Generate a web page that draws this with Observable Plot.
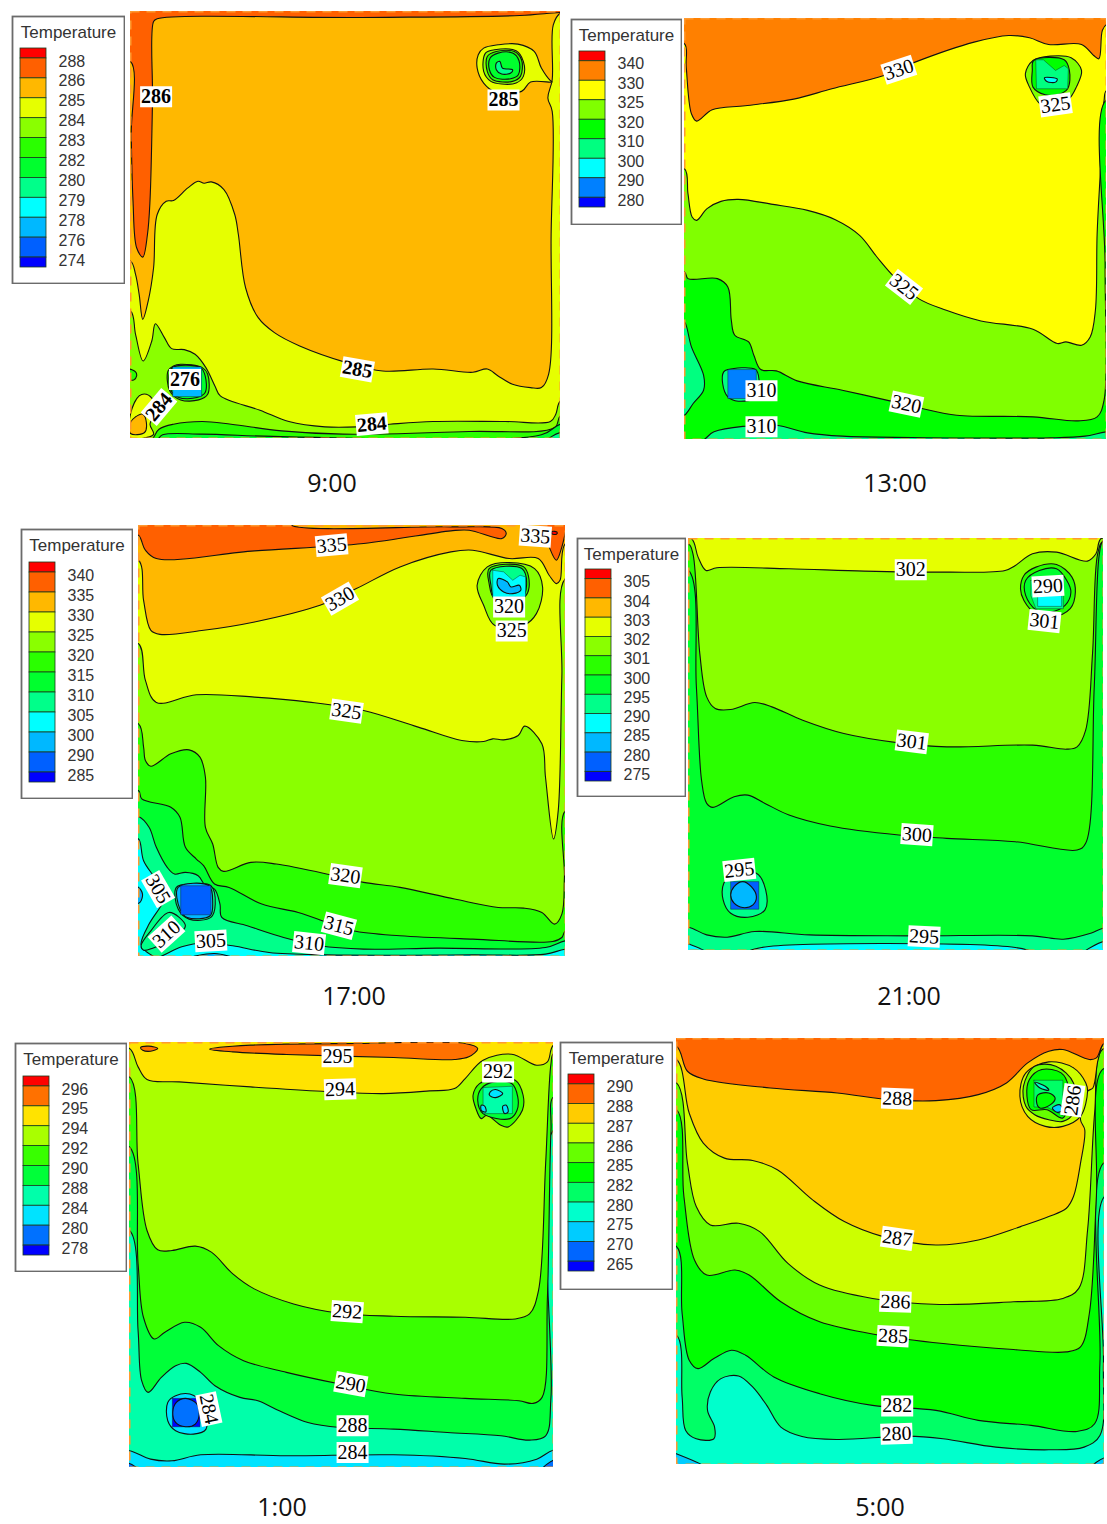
<!DOCTYPE html>
<html><head><meta charset="utf-8">
<script src="https://cdn.jsdelivr.net/npm/d3@7"></script>
<script src="https://cdn.jsdelivr.net/npm/@observablehq/plot@0.6"></script>
<style>
html,body{margin:0;padding:0;background:#fff}
#page{position:relative;width:1107px;height:1524px;overflow:hidden}
#page svg{position:absolute;background:transparent;overflow:hidden}
.cap{position:absolute;font:25px "Open Sans",sans-serif;color:#111;transform:translateX(-50%);white-space:nowrap;line-height:26px}
</style></head><body><div id="page"></div>
<script>
// ---------- legends ----------
const levels0900=[288,286,285,284,283,282,280,279,278,276,274];
const levels1300=[340,330,325,320,310,300,290,280];
const levels1700=[340,335,330,325,320,315,310,305,300,290,285];
const levels2100=[305,304,303,302,301,300,295,290,285,280,275];
const levels0100=[296,295,294,292,290,288,284,280,278];
const levels0500=[290,288,287,286,285,282,280,275,270,265];
const colors12=["#ff0000","#ff6000","#ffb800","#e6ff00","#8aff00","#2aff00","#00ff2e","#00ff8a","#00ffff","#00b8ff","#0060ff","#0000ff"];
const colors0900=colors12, colors1700=colors12, colors2100=colors12;
const colors1300=["#ff0000","#ff8000","#ffff00","#80ff00","#00ff00","#00ff80","#00ffff","#0080ff","#0000ff"];
const colors0100=["#ff0000","#ff7100","#ffe300","#a9ff00","#38ff00","#00ff39","#00ffaa","#00e3ff","#0071ff","#0000ff"];
const colors0500=["#ff0000","#ff6600","#ffcc00","#ccff00","#66ff00","#00ff00","#00ff66","#00ffcc","#00ccff","#0066ff","#0000ff"];

// ---------- contour regions (b = legend band) ----------
const regions0900=[
 {b:2,c:"bottom",p:[[361,30],[1553,30]]},
 {b:1,c:"top",p:[[361,180],[363,400],[368,600],[378,740],[395,768],[408,700],[415,600],[422,300],[425,60],[435,52],[1000,48],[1440,42],[1553,33]]},
 {b:3,c:"bottom",p:[[361,780],[375,820],[385,880],[395,955],[410,900],[425,800],[435,640],[460,600],[480,598],[520,560],[548,540],[565,546],[585,542],[620,565],[650,640],[660,700],[680,860],[715,950],[760,995],[830,1035],[960,1085],[1060,1110],[1200,1104],[1310,1114],[1350,1104],[1380,1125],[1420,1150],[1470,1160],[1500,1160],[1520,1120],[1527,700],[1530,330],[1518,290],[1530,235],[1533,70],[1553,35]]},
 {b:4,c:"bottom",p:[[361,930],[375,1000],[396,1080],[420,1020],[430,968],[455,1010],[475,1043],[510,1046],[540,1060],[570,1100],[595,1155],[610,1185],[720,1228],[800,1262],[900,1278],[990,1278],[1080,1270],[1200,1262],[1400,1262],[1525,1262],[1540,1240],[1553,1200]]},
 {b:3,k:"closed",p:[[361,1240],[385,1185],[405,1180],[425,1200],[430,1235],[415,1270],[425,1300],[405,1310],[361,1312]]},
 {b:2,k:"closed",p:[[361,1265],[375,1248],[395,1240],[405,1265],[400,1295],[361,1298]]},
 {b:5,k:"closed",p:[[355,1105],[375,1113],[378,1125],[370,1137],[355,1135]]},
 {b:5,c:"bottom",p:[[415,1320],[440,1285],[480,1270],[560,1262],[640,1270],[780,1290],[950,1300],[1300,1292],[1537,1280],[1553,1245]]},
 {b:6,c:"bottom",p:[[430,1320],[450,1302],[560,1300],[800,1308],[1500,1302],[1553,1270]]},
 {b:7,c:"bottom",p:[[1515,1320],[1553,1295]]},
 {b:3,k:"closed",p:[[1340,140],[1380,130],[1435,128],[1480,150],[1500,200],[1525,238],[1530,242],[1470,242],[1445,270],[1370,270],[1340,245],[1322,200],[1325,160]]},
 {b:4,k:"closed",p:[[1345,155],[1370,145],[1430,148],[1450,180],[1450,225],[1430,245],[1390,248],[1360,240],[1340,210]]},
 {b:5,k:"closed",p:[[1350,165],[1375,150],[1425,150],[1445,175],[1442,225],[1420,240],[1365,235],[1350,210]]},
 {b:6,k:"closed",p:[[1358,170],[1380,155],[1420,155],[1438,178],[1436,220],[1415,232],[1370,228],[1356,205]]},
 {b:7,k:"closed",p:[[1375,185],[1385,180],[1392,200],[1420,205],[1415,215],[1390,218],[1375,205]]},
 {b:5,k:"closed",p:[[480,1095],[500,1090],[560,1100],[575,1120],[575,1180],[550,1197],[500,1197],[470,1170],[465,1110]]},
 {b:6,k:"closed",p:[[475,1102],[555,1100],[568,1125],[568,1175],[545,1190],[495,1190],[472,1165]]},
 {b:9,k:"sq",p:[[478,1098],[558,1098],[558,1187],[478,1187]]}
];
const regions1300=[
 {b:2,c:"bottom",p:[[345,54],[1562,54]]},
 {b:1,c:"top",p:[[345,130],[350,200],[365,340],[380,362],[425,328],[520,316],[660,296],[770,265],[920,225],[1010,185],[1180,125],[1280,105],[1340,112],[1395,132],[1490,132],[1525,165],[1540,175],[1550,90],[1562,72]]},
 {b:3,c:"bottom",p:[[345,505],[355,580],[367,650],[380,660],[410,625],[450,603],[500,597],[600,612],[700,630],[780,658],[850,705],[900,770],[950,830],[1020,895],[1100,930],[1200,962],[1350,987],[1420,1030],[1445,1025],[1490,1035],[1515,1010],[1530,930],[1535,700],[1545,500],[1555,300],[1562,270]]},
 {b:4,c:"bottom",p:[[345,815],[355,835],[440,835],[470,860],[480,960],[490,1005],[530,1025],[545,1065],[565,1108],[610,1112],[670,1142],[800,1170],[950,1205],[1030,1225],[1130,1245],[1350,1250],[1480,1262],[1535,1250],[1555,1200],[1558,800],[1560,300]]},
 {b:5,k:"closed",p:[[335,965],[345,965],[365,1040],[400,1125],[400,1170],[370,1210],[345,1245],[335,1245]]},
 {b:5,c:"bottom",p:[[390,1325],[430,1295],[520,1278],[610,1275],[700,1298],[800,1308],[1000,1312],[1400,1313],[1500,1308],[1562,1295]]},
 {b:5,k:"closed",p:[[470,1108],[550,1108],[560,1140],[555,1190],[500,1203],[470,1190],[455,1150],[458,1115]]},
 {b:7,k:"sq",p:[[470,1108],[552,1108],[552,1195],[470,1195]]},
 {b:3,k:"closed",p:[[1350,180],[1400,167],[1460,172],[1490,210],[1475,260],[1450,300],[1400,320],[1370,310],[1340,260],[1328,220]]},
 {b:4,k:"closed",p:[[1352,180],[1440,178],[1455,210],[1450,265],[1420,283],[1385,283],[1350,260],[1348,210]]},
 {b:5,k:"sq",p:[[1358,178],[1380,178],[1415,210],[1440,195],[1452,205],[1450,265],[1360,265]]},
 {b:6,k:"closed",p:[[1383,232],[1420,236],[1415,245],[1390,243]]}
];
const regions1700=[
 {b:3,c:"bottom",p:[[381,46],[1555,46]]},
 {b:2,c:"top",p:[[381,150],[395,270],[415,360],[440,372],[560,360],[700,335],[880,285],[980,235],[1100,170],[1240,125],[1300,120],[1400,145],[1480,145],[1510,195],[1530,220],[1540,210],[1555,100]]},
 {b:1,k:"closed",p:[[360,30],[360,75],[381,75],[400,120],[430,145],[700,122],[1000,100],[1240,62],[1290,60],[1380,85],[1392,70],[1380,55],[1240,50],[800,44],[800,30]]},
 {b:1,k:"closed",p:[[1490,40],[1510,110],[1530,150],[1545,110],[1555,65],[1560,40]]},
 {b:0,k:"closed",p:[[1518,64],[1532,66],[1530,72],[1518,71]]},
 {b:4,c:"bottom",p:[[381,400],[400,510],[430,576],[540,553],[700,560],[850,575],[1000,600],[1150,650],[1270,690],[1330,693],[1355,685],[1385,688],[1425,675],[1443,647],[1490,700],[1500,800],[1522,985],[1535,900],[1545,500],[1555,205]]},
 {b:5,c:"bottom",p:[[381,640],[395,710],[400,750],[415,767],[470,730],[520,718],[550,740],[565,800],[565,950],[585,1000],[600,1070],[615,1082],[690,1055],[760,1060],[920,1095],[1000,1115],[1100,1130],[1250,1165],[1370,1190],[1440,1192],[1490,1205],[1525,1240],[1545,1210],[1552,1100],[1555,900]]},
 {b:6,c:"bottom",p:[[381,840],[390,865],[470,890],[495,920],[510,1010],[540,1045],[560,1065],[590,1120],[630,1130],[720,1180],[820,1205],[900,1235],[970,1260],[1100,1275],[1300,1285],[1520,1292],[1545,1280],[1555,1260]]},
 {b:7,c:"bottom",p:[[381,918],[410,950],[430,1010],[460,1070],[480,1090],[510,1085],[545,1095],[565,1125],[590,1135],[605,1180],[610,1220],[680,1245],[780,1280],[880,1305],[1000,1315],[1200,1312],[1500,1310],[1555,1290]]},
 {b:8,k:"closed",p:[[360,985],[381,985],[395,1050],[430,1110],[450,1170],[440,1190],[410,1240],[388,1300],[400,1320],[430,1345],[360,1345]]},
 {b:8,c:"bottom",p:[[420,1345],[500,1308],[560,1296],[640,1305],[740,1325],[900,1332],[1300,1332],[1500,1330],[1555,1315]]},
 {b:9,k:"closed",p:[[372,1130],[381,1130],[392,1150],[385,1175],[372,1178]]},
 {b:9,k:"closed",p:[[510,1345],[590,1328],[650,1345]]},
 {b:7,k:"closed",p:[[388,1305],[415,1260],[465,1205],[510,1245],[480,1280],[420,1312],[395,1318]]},
 {b:7,k:"closed",p:[[485,1130],[530,1120],[580,1125],[592,1180],[580,1220],[520,1225],[490,1195]]},
 {b:9,k:"closed",p:[[490,1130],[575,1125],[585,1175],[578,1215],[515,1220],[495,1195]]},
 {b:10,k:"sq",p:[[497,1125],[580,1125],[580,1212],[497,1212]]},
 {b:4,k:"closed",p:[[1340,170],[1400,157],[1470,175],[1492,230],[1475,310],[1440,345],[1360,345],[1330,285],[1312,225]]},
 {b:5,k:"closed",p:[[1345,175],[1440,170],[1455,230],[1440,262],[1360,265],[1345,220]]},
 {b:7,k:"closed",p:[[1350,180],[1435,175],[1448,225],[1435,262],[1360,262],[1350,225]]},
 {b:8,k:"sq",p:[[1355,180],[1385,185],[1410,210],[1430,195],[1445,200],[1445,260],[1355,262]]},
 {b:9,k:"closed",p:[[1370,205],[1395,215],[1405,230],[1428,225],[1432,240],[1410,250],[1385,245],[1368,225]]}
];
const regions2100=[
 {b:6,c:"bottom",p:[[347,54],[1557,54]]},
 {b:5,c:"top",p:[[347,150],[370,500],[385,780],[400,850],[418,862],[480,830],[520,825],[570,850],[640,885],[760,918],[960,945],[1100,955],[1300,965],[1480,990],[1505,970],[1530,500],[1545,100],[1557,60]]},
 {b:4,c:"top",p:[[347,70],[360,100],[380,400],[400,530],[425,565],[470,568],[540,547],[590,560],[680,600],[800,640],[960,668],[1100,680],[1350,675],[1450,687],[1480,680],[1505,630],[1525,400],[1540,100],[1557,60]]},
 {b:3,c:"top",p:[[355,54],[375,110],[398,150],[430,142],[640,145],[860,152],[1100,155],[1270,150],[1300,135],[1350,100],[1420,95],[1510,122],[1535,100],[1550,54]]},
 {b:7,c:"bottom",p:[[347,1222],[400,1245],[460,1252],[540,1235],[700,1245],[1000,1248],[1350,1248],[1440,1258],[1520,1240],[1557,1225]]},
 {b:8,k:"closed",p:[[335,1268],[347,1272],[395,1295],[335,1300]]},
 {b:8,k:"closed",p:[[1500,1298],[1557,1265],[1570,1265],[1570,1298]]},
 {b:8,k:"closed",p:[[520,1298],[560,1283],[1300,1283],[1350,1298]]},
 {b:7,k:"closed",p:[[470,1070],[545,1060],[572,1110],[570,1170],[520,1192],[470,1180],[448,1140],[450,1090]]},
 {b:10,k:"sq",p:[[470,1085],[552,1085],[552,1168],[470,1168]]},
 {b:9,k:"closed",p:[[505,1085],[530,1100],[545,1130],[535,1155],[505,1163],[480,1150],[470,1125],[480,1100]]},
 {b:5,k:"closed",p:[[1360,140],[1420,132],[1465,170],[1475,215],[1460,265],[1410,290],[1360,280],[1325,240],[1315,205],[1325,165]]},
 {b:6,k:"closed",p:[[1370,150],[1420,145],[1450,180],[1462,215],[1445,255],[1400,275],[1360,268],[1330,225],[1330,180]]},
 {b:7,k:"sq",p:[[1345,180],[1440,175],[1440,265],[1360,265],[1345,225]]},
 {b:8,k:"sq",p:[[1365,218],[1435,218],[1435,258],[1365,258]]}
];
const regions0100=[
 {b:6,c:"bottom",p:[[361,37],[1547,37]]},
 {b:5,c:"top",p:[[361,600],[385,900],[395,1050],[413,1085],[450,1040],[490,1005],[520,998],[560,1025],[600,1065],[670,1100],[720,1110],[780,1140],[860,1175],[950,1190],[1100,1195],[1250,1205],[1400,1215],[1480,1228],[1525,1215],[1540,1100],[1547,300]]},
 {b:4,c:"top",p:[[361,350],[385,700],[400,860],[430,925],[460,905],[515,875],[560,890],[610,945],[680,990],[800,1025],[950,1060],[1100,1090],[1300,1103],[1450,1110],[1490,1118],[1515,1100],[1530,800],[1540,300],[1547,200]]},
 {b:3,c:"top",p:[[361,140],[385,400],[410,600],[440,658],[480,660],[545,647],[590,665],[650,730],[710,775],[820,820],[950,848],[1100,857],[1300,860],[1440,865],[1480,850],[1505,780],[1525,400],[1540,100],[1547,70]]},
 {b:2,c:"top",p:[[361,55],[385,110],[410,148],[500,155],[700,170],[900,183],[1070,190],[1200,182],[1270,175],[1300,145],[1350,90],[1430,72],[1500,105],[1530,95],[1547,45]]},
 {b:1,k:"closed",p:[[585,57],[700,45],[1000,40],[1300,40],[1335,55],[1310,80],[1270,88],[1100,82],[800,73],[650,65]]},
 {b:1,k:"closed",p:[[392,52],[415,48],[440,55],[420,63],[398,60]]},
 {b:7,c:"bottom",p:[[361,1260],[420,1285],[480,1290],[560,1272],[800,1275],[1100,1272],[1300,1283],[1410,1300],[1500,1285],[1547,1258]]},
 {b:8,k:"closed",p:[[350,1298],[361,1298],[385,1316],[350,1316]]},
 {b:8,k:"closed",p:[[1515,1316],[1547,1288],[1560,1288],[1560,1316]]},
 {b:7,k:"closed",p:[[490,1095],[530,1090],[565,1120],[575,1195],[540,1210],[490,1200],[468,1170],[468,1115]]},
 {b:9,k:"sq",p:[[481,1103],[558,1103],[558,1188],[481,1188]]},
 {b:8,k:"closed",p:[[518,1103],[548,1118],[556,1150],[545,1180],[518,1188],[490,1175],[482,1145],[492,1115]]},
 {b:4,k:"closed",p:[[1340,160],[1380,148],[1440,150],[1462,195],[1460,240],[1420,290],[1400,285],[1360,255],[1345,265],[1330,235],[1322,195]]},
 {b:5,k:"closed",p:[[1345,175],[1380,155],[1430,160],[1447,200],[1445,240],[1425,265],[1350,250],[1335,210]]},
 {b:6,k:"sq",p:[[1350,172],[1432,168],[1432,250],[1350,250]]},
 {b:7,k:"closed",p:[[1370,185],[1385,178],[1405,190],[1385,202],[1368,195]]},
 {b:7,k:"closed",p:[[1405,228],[1415,225],[1420,245],[1410,250]]},
 {b:7,k:"closed",p:[[1345,225],[1355,228],[1358,245],[1345,240]]}
];
const regions0500=[
 {b:7,c:"bottom",p:[[344,27],[1558,27]]},
 {b:6,c:"top",p:[[344,915],[360,1100],[370,1200],[400,1225],[450,1225],[452,1190],[432,1140],[440,1085],[470,1045],[520,1037],[560,1070],[600,1125],[640,1190],[700,1218],[800,1227],[1000,1217],[1100,1225],[1250,1250],[1400,1258],[1500,1250],[1545,1215],[1555,1000],[1558,500]]},
 {b:5,c:"top",p:[[344,650],[360,850],[380,990],[405,1015],[450,985],[500,960],[540,975],[620,1040],[750,1090],[900,1125],[1080,1140],[1200,1170],[1350,1185],[1480,1203],[1530,1180],[1545,1000],[1555,400]]},
 {b:4,c:"top",p:[[344,240],[365,500],[395,690],[430,735],[510,720],[550,735],[640,815],[750,875],[920,915],[1100,940],[1300,958],[1450,965],[1490,950],[1515,850],[1535,500],[1552,120]]},
 {b:3,c:"top",p:[[344,160],[375,400],[400,530],[440,585],[520,580],[580,605],[660,700],[750,765],[900,805],[1090,823],[1300,815],[1440,805],[1485,775],[1510,600],[1530,250],[1552,60]]},
 {b:2,c:"top",p:[[344,90],[380,250],[420,340],[480,385],[560,392],[630,420],[730,510],[820,575],[930,620],[1080,645],[1200,630],[1320,590],[1400,560],[1450,535],[1470,500],[1490,400],[1502,300],[1490,270],[1510,185],[1525,175],[1540,90],[1558,40]]},
 {b:1,c:"top",p:[[344,50],[375,125],[420,148],[610,175],[800,190],[950,210],[1080,213],[1200,195],[1280,160],[1340,100],[1400,65],[1440,60],[1515,90],[1535,85],[1558,40]]},
 {b:8,k:"closed",p:[[330,1265],[344,1270],[425,1310],[330,1310]]},
 {b:8,k:"closed",p:[[1520,1310],[1558,1282],[1570,1282],[1570,1310]]},
 {b:3,k:"closed",p:[[1400,97],[1470,115],[1505,160],[1510,185],[1490,260],[1440,290],[1390,290],[1340,260],[1318,200],[1335,130]]},
 {b:4,k:"closed",p:[[1360,110],[1420,110],[1470,160],[1470,250],[1440,275],[1400,270],[1360,255],[1335,230],[1328,170]]},
 {b:5,k:"closed",p:[[1345,150],[1380,120],[1435,130],[1455,170],[1440,265],[1395,240],[1350,240],[1338,200]]},
 {b:6,k:"sq",p:[[1358,152],[1440,152],[1440,258],[1395,232],[1358,232]]},
 {b:5,k:"closed",p:[[1370,195],[1400,190],[1418,205],[1405,225],[1375,235],[1365,215]]},
 {b:7,k:"closed",p:[[1360,158],[1390,170],[1400,182],[1375,175]]},
 {b:8,k:"closed",p:[[1410,235],[1430,225],[1440,240],[1425,248]]}
];

// ---------- contour labels: [text, x, y, rotation] ----------
const labels0900=[["286",432,286,0],["285",1395,296,0],["276",512,1136,0],["285",990,1105,10],["284",1030,1270,-5],["284",440,1218,-50]];
const labels1300=[["330",963,208,-18],["325",1415,313,-8],["325",978,860,38],["310",567,1172,0],["320",985,1212,12],["310",567,1280,0]];
const labels1700=[["335",912,105,-5],["335",1472,78,4],["330",935,265,-30],["320",1400,290,0],["325",1407,362,0],["325",953,602,8],["320",950,1095,8],["315",932,1245,15],["310",850,1297,6],["305",580,1290,-3],["305",435,1135,60],["310",458,1270,-42]];
const labels2100=[["302",995,148,0],["290",1395,197,-3],["301",1385,302,6],["301",998,665,7],["300",1013,944,4],["295",495,1050,-6],["295",1034,1250,3]];
const labels0100=[["295",943,80,0],["292",1392,125,0],["294",950,177,-2],["292",970,843,4],["290",980,1060,10],["288",985,1185,0],["284",985,1265,0],["284",583,1135,78]];
const labels0500=[["288",970,207,2],["287",970,625,8],["286",965,815,2],["285",958,918,3],["282",970,1127,0],["280",968,1210,-2],["286",1468,212,-82]];

// ---------- panels ----------
const panels=[
 {time:"9:00", cap:[332,469], box:[130,11,430,427],  dx:[361,1553],dy:[30,1313], regions:regions0900,labels:labels0900,colors:colors0900,levels:levels0900,bold:true,
  leg:[11,15,114,269], sw:[33,219]},
 {time:"13:00",cap:[895,469], box:[684,18,422,421],  dx:[345,1562],dy:[54,1318], regions:regions1300,labels:labels1300,colors:colors1300,levels:levels1300,
  leg:[570,18,112,207], sw:[33,156]},
 {time:"17:00",cap:[354,982], box:[138,525,427,431], dx:[381,1555],dy:[46,1337], regions:regions1700,labels:labels1700,colors:colors1700,levels:levels1700,
  leg:[20,528,113,271], sw:[34,220]},
 {time:"21:00",cap:[909,982], box:[688,538,415,412], dx:[347,1557],dy:[54,1292], regions:regions2100,labels:labels2100,colors:colors2100,levels:levels2100,
  leg:[576,537,110,260], sw:[32,212]},
 {time:"1:00", cap:[282,1493],box:[129,1042,424,425],dx:[361,1547],dy:[37,1310], regions:regions0100,labels:labels0100,colors:colors0100,levels:levels0100,
  leg:[14,1042,113,230], sw:[34,179]},
 {time:"5:00", cap:[880,1493],box:[676,1038,428,426],dx:[344,1558],dy:[27,1302], regions:regions0500,labels:labels0500,colors:colors0500,levels:levels0500,
  leg:[559,1041,114,249], sw:[33,197]}
];
const page=document.getElementById("page");
const place=(svg,x,y)=>{svg.style.left=x+"px";svg.style.top=y+"px";page.appendChild(svg);};

// white plate behind each contour label
const labelPlate={draw(ctx){ctx.moveTo(-16,-10.5);ctx.lineTo(16,-10.5);ctx.lineTo(16,10.5);ctx.lineTo(-16,10.5);ctx.closePath();}};

function ringClose(r,dx,dy){
  const p=r.p.slice();
  if(!r.c) return p;
  const first=p[0], last=p[p.length-1];
  const mid=(dx[0]+dx[1])/2, out=60;
  const ox=q=>q[0]<mid?dx[0]-out:dx[1]+out;
  const Y=r.c==="top"?dy[0]-out:dy[1]+out;
  return [[ox(first),first[1]],...p,[ox(last),last[1]],[ox(last),Y],[ox(first),Y],[ox(first),first[1]]];
}

for(const P of panels){
  const [bx,by,bw,bh]=P.box;
  const bands=d3.range(P.colors.length);
  const marks=P.regions.map(r=>{
    const pts=ringClose(r,P.dx,P.dy);
    const curve=r.k==="sq"?"linear":r.k==="closed"?"catmull-rom-closed":"catmull-rom";
    const closedPts=r.k==="sq"?[...pts,pts[0]]:pts;
    return Plot.line(closedPts,{x:d=>d[0],y:d=>d[1],fill:()=>r.b,stroke:"#111",strokeWidth:r.k==="sq"?0.4:1.1,curve,clip:true});
  });
  marks.push(Plot.frame({stroke:"#ff9a30",strokeWidth:2,strokeDasharray:"9 7"}));
  marks.push(Plot.dot(P.labels,{x:d=>d[1],y:d=>d[2],rotate:d=>d[3],r:5,symbol:labelPlate,fill:"#fff",stroke:"none"}));
  marks.push(Plot.text(P.labels,{x:d=>d[1],y:d=>d[2],text:d=>d[0],rotate:d=>d[3],fontSize:20,fontWeight:P.bold?"bold":"normal",fontFamily:"Liberation Serif",fill:"#000"}));
  const svg=Plot.plot({width:bw,height:bh,margin:0,
    x:{domain:P.dx,range:[0,bw],axis:null},
    y:{domain:P.dy,range:[0,bh],axis:null},
    color:{type:"ordinal",domain:bands,range:P.colors},
    marks});
  place(svg,bx,by);

  // legend
  const [lx,ly,lw,lh]=P.leg;
  const n=P.levels.length;
  const swatches=P.colors.map((c,i)=>({i,y1:i===0?-0.5:i-1,y2:i===P.colors.length-1?n-0.5:i}));
  const leg=Plot.plot({width:lw,height:lh,margin:0,
    x:{domain:[0,lw],range:[0,lw],axis:null},
    y:{domain:[-0.5,n-0.5],range:[P.sw[0],P.sw[0]+P.sw[1]],axis:null},
    color:{type:"ordinal",domain:d3.range(P.colors.length),range:P.colors},
    marks:[
      Plot.frame({stroke:"#6b6b6b",strokeWidth:1.8,inset:1}),
      Plot.rect(swatches,{x1:()=>9,x2:()=>35,y1:"y1",y2:"y2",fill:"i",stroke:"#1a3a1a",strokeWidth:0.8}),
      Plot.text(P.levels,{x:()=>47,y:(d,i)=>i,text:d=>String(d),textAnchor:"start",dy:3,fontSize:16,fontFamily:"Liberation Sans",fill:"#333"}),
      Plot.text(["Temperature"],{frameAnchor:"top",dy:10,fontSize:17,fontFamily:"Liberation Sans",fill:"#333"})
    ]});
  place(leg,lx,ly);

  const cap=document.createElement("div");
  cap.className="cap";cap.textContent=P.time;
  cap.style.left=P.cap[0]+"px";cap.style.top=P.cap[1]+"px";
  page.appendChild(cap);
}
</script></body></html>
